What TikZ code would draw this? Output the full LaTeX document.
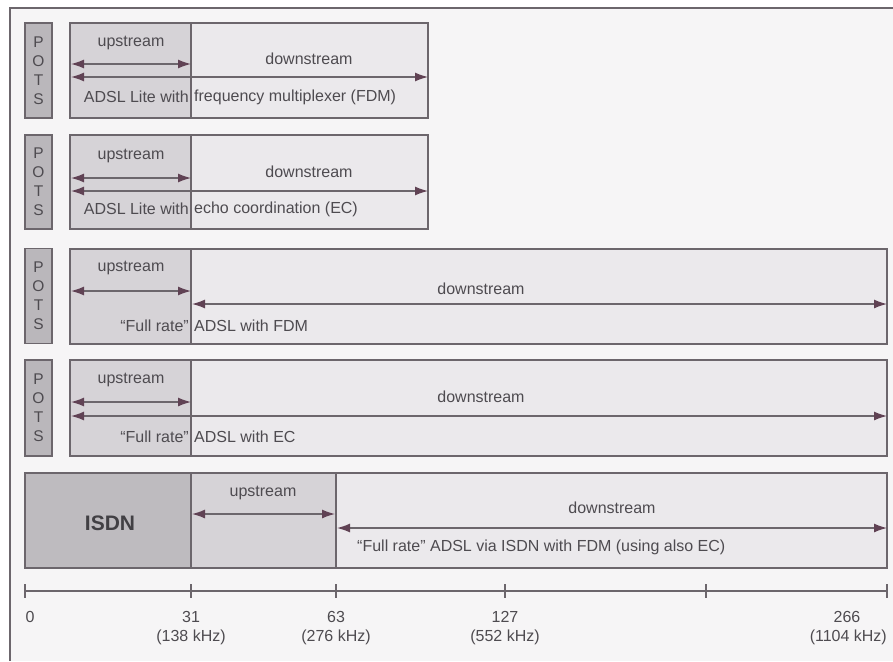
\documentclass[tikz,border=0pt]{standalone}
\usepackage{fontspec}
\setmainfont{Liberation Sans}
\usetikzlibrary{arrows.meta}
\definecolor{bgc}{RGB}{246,245,246}
\definecolor{linec}{RGB}{108,102,108}
\definecolor{headc}{RGB}{96,66,84}
\definecolor{txtc}{RGB}{78,75,80}
\definecolor{potsc}{RGB}{186,183,187}
\definecolor{upc}{RGB}{214,211,215}
\definecolor{downc}{RGB}{235,233,236}
\definecolor{isdnc}{RGB}{190,187,191}
\tikzset{
  bx/.style={draw=linec, line width=1.4pt},
  dual/.style={draw=linec, line width=1.3pt, {Latex[length=13pt,width=9pt,color=headc]}-{Latex[length=13pt,width=9pt,color=headc]}},
  lbl/.style={text=txtc, inner sep=0pt, font=\fontsize{16}{19}\selectfont},
  potsl/.style={text=txtc, inner sep=0pt, align=center, font=\fontsize{15.5}{19}\selectfont},
}
\begin{document}
\begin{tikzpicture}[x=1pt,y=-1pt]
\useasboundingbox (0,0) rectangle (893,661);
\fill[white] (0,0) rectangle (893,661);
\fill[bgc] (10,8) rectangle (893,661);
\draw[linec, line width=1.2pt] (10,661) -- (10,8) -- (893,8);

% ---------- Row 1 ----------
\node[bx, fill=potsc, minimum width=27pt, minimum height=95pt, inner sep=0pt] (pots1) at (38.5,70.5) {};
\node[potsl] at (pots1.center) {P\\O\\T\\S};
\fill[upc] (70,23) rectangle (191,118);
\fill[downc] (191,23) rectangle (428,118);
\node[bx, minimum width=358pt, minimum height=95pt, inner sep=0pt] (box1) at (249,70.5) {};
\draw[bx] (191,23) -- (191,118);
\coordinate (u1a) at (71,64); \coordinate (u1b) at (191,64);
\coordinate (d1a) at (71,77); \coordinate (d1b) at (428,77);
\draw[dual] (u1a) -- (u1b);
\draw[dual] (d1a) -- (d1b);
\node[lbl] (up1) at (131,43) {upstream};
\node[lbl] (dn1) at (309,59) {downstream};
\node[lbl, anchor=east] (t1a) at (189,97) {ADSL Lite with};
\node[lbl, anchor=west] (t1b) at (194,97) {frequency multiplexer (FDM)};

% ---------- Row 2 ----------
\node[bx, fill=potsc, minimum width=27pt, minimum height=94pt, inner sep=0pt] (pots2) at (38.5,182) {};
\node[potsl] at (pots2.center) {P\\O\\T\\S};
\fill[upc] (70,135) rectangle (191,229);
\fill[downc] (191,135) rectangle (428,229);
\node[bx, minimum width=358pt, minimum height=94pt, inner sep=0pt] (box2) at (249,182) {};
\draw[bx] (191,135) -- (191,229);
\coordinate (u2a) at (71,178); \coordinate (u2b) at (191,178);
\coordinate (d2a) at (71,191); \coordinate (d2b) at (428,191);
\draw[dual] (u2a) -- (u2b);
\draw[dual] (d2a) -- (d2b);
\node[lbl] (up2) at (131,156) {upstream};
\node[lbl] (dn2) at (309,172) {downstream};
\node[lbl, anchor=east] (t2a) at (189,209) {ADSL Lite with};
\node[lbl, anchor=west] (t2b) at (194,209) {echo coordination (EC)};

% ---------- Row 3 ----------
\node[bx, fill=potsc, minimum width=27pt, minimum height=95pt, inner sep=0pt] (pots3) at (38.5,296) {};
\node[potsl] at (pots3.center) {P\\O\\T\\S};
\fill[upc] (70,249) rectangle (191,344);
\fill[downc] (191,249) rectangle (887,344);
\node[bx, minimum width=817pt, minimum height=95pt, inner sep=0pt] (box3) at (478.5,296.5) {};
\draw[bx] (191,249) -- (191,344);
\coordinate (u3a) at (71,291); \coordinate (u3b) at (191,291);
\coordinate (d3a) at (192,304); \coordinate (d3b) at (887,304);
\draw[dual] (u3a) -- (u3b);
\draw[dual] (d3a) -- (d3b);
\node[lbl] (up3) at (131,268) {upstream};
\node[lbl] (dn3) at (481,289) {downstream};
\node[lbl, anchor=east] (t3a) at (189,326) {“Full rate”};
\node[lbl, anchor=west] (t3b) at (194,326) {ADSL with FDM};

% ---------- Row 4 ----------
\node[bx, fill=potsc, minimum width=27pt, minimum height=96pt, inner sep=0pt] (pots4) at (38.5,408) {};
\node[potsl] at (pots4.center) {P\\O\\T\\S};
\fill[upc] (70,360) rectangle (191,456);
\fill[downc] (191,360) rectangle (887,456);
\node[bx, minimum width=817pt, minimum height=96pt, inner sep=0pt] (box4) at (478.5,408) {};
\draw[bx] (191,360) -- (191,456);
\coordinate (u4a) at (71,402); \coordinate (u4b) at (191,402);
\coordinate (d4a) at (71,416); \coordinate (d4b) at (887,416);
\draw[dual] (u4a) -- (u4b);
\draw[dual] (d4a) -- (d4b);
\node[lbl] (up4) at (131,380) {upstream};
\node[lbl] (dn4) at (481,397) {downstream};
\node[lbl, anchor=east] (t4a) at (189,437) {“Full rate”};
\node[lbl, anchor=west] (t4b) at (194,437) {ADSL with EC};

% ---------- Row 5 ----------
\fill[isdnc] (25,473) rectangle (191,568);
\fill[upc] (191,473) rectangle (336,568);
\fill[downc] (336,473) rectangle (887,568);
\node[bx, minimum width=862pt, minimum height=95pt, inner sep=0pt] (box5) at (456,520.5) {};
\draw[bx] (191,473) -- (191,568);
\draw[bx] (336,473) -- (336,568);
\node[inner sep=0pt, text=txtc!85!black, font=\fontsize{21}{24}\selectfont\bfseries] (isdn) at (110,523) {ISDN};
\coordinate (u5a) at (192,514); \coordinate (u5b) at (335,514);
\coordinate (d5a) at (337,528); \coordinate (d5b) at (887,528);
\draw[dual] (u5a) -- (u5b);
\draw[dual] (d5a) -- (d5b);
\node[lbl] (up5) at (263,493) {upstream};
\node[lbl] (dn5) at (612,508) {downstream};
\node[lbl, anchor=west] (t5) at (357,547) {“Full rate” ADSL via ISDN with FDM (using also EC)};

% ---------- Axis ----------
\coordinate (ax0) at (25,591);
\coordinate (ax1) at (887,591);
\draw[bx] (ax0) -- (ax1);
\foreach \x in {25,191,336,505,706,887} \draw[bx] (\x,584) -- (\x,598);
\node[lbl] (l0) at (30,617) {0};
\node[lbl] (l31) at (191,617) {31};
\node[lbl] (k31) at (191,637) {(138 kHz)};
\node[lbl] (l63) at (336,617) {63};
\node[lbl] (k63) at (336,637) {(276 kHz)};
\node[lbl] (l127) at (505,617) {127};
\node[lbl] (k127) at (505,637) {(552 kHz)};
\node[lbl] (l266) at (847,617) {266};
\node[lbl, anchor=east] (k266) at (887,637) {(1104 kHz)};
\end{tikzpicture}
\end{document}
